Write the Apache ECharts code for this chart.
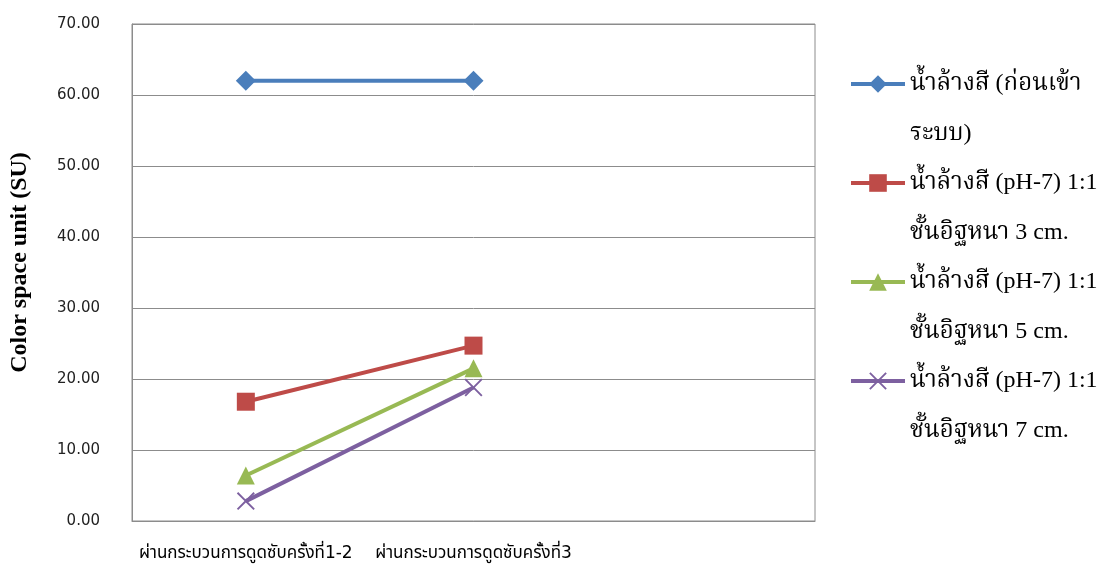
<!DOCTYPE html>
<html>
<head>
<meta charset="utf-8">
<script src="https://cdn.jsdelivr.net/npm/echarts@6/dist/echarts.min.js"></script>
<style>
  html, body { margin: 0; padding: 0; background: #fff; }
  #chart { width: 1099px; height: 565px; }
</style>
</head>
<body>
<div id="chart"></div>
<script>
// categories (third slot is empty in the original)
var categories = ['ผ่านกระบวนการดูดซับครั้งที่1-2', 'ผ่านกระบวนการดูดซับครั้งที่3', ''];

var seriesNames = [
  'น้ำล้างสี (ก่อนเข้าระบบ)',
  'น้ำล้างสี (pH-7) 1:1 ชั้นอิฐหนา 3 cm.',
  'น้ำล้างสี (pH-7) 1:1 ชั้นอิฐหนา 5 cm.',
  'น้ำล้างสี (pH-7) 1:1 ชั้นอิฐหนา 7 cm.'
];
// wrapped legend text, as in the picture
// (leading blank line keeps the icon level with the first line)
var legendLines = {
  'น้ำล้างสี (ก่อนเข้าระบบ)': '\nน้ำล้างสี (ก่อนเข้า\nระบบ)',
  'น้ำล้างสี (pH-7) 1:1 ชั้นอิฐหนา 3 cm.': '\nน้ำล้างสี (pH-7) 1:1\nชั้นอิฐหนา 3 cm.',
  'น้ำล้างสี (pH-7) 1:1 ชั้นอิฐหนา 5 cm.': '\nน้ำล้างสี (pH-7) 1:1\nชั้นอิฐหนา 5 cm.',
  'น้ำล้างสี (pH-7) 1:1 ชั้นอิฐหนา 7 cm.': '\nน้ำล้างสี (pH-7) 1:1\nชั้นอิฐหนา 7 cm.'
};

var rawWater = [62.0, 62.0];
var brick3cm = [16.8, 24.7];
var brick5cm = [6.4, 21.5];
var brick7cm = [2.8, 18.8];

var colors = ['#4A7EBB', '#BE4B48', '#98B954', '#7D60A0'];
var crossPath = 'path://M0,1.5L1.5,0L10,8.5L18.5,0L20,1.5L11.5,10L20,18.5L18.5,20L10,11.5L1.5,20L0,18.5L8.5,10Z';

function makeSeries(name, data, color, symbol, size) {
  return {
    name: name,
    type: 'line',
    data: data,
    symbol: symbol,
    symbolSize: size,
    lineStyle: { color: color, width: 4 },
    itemStyle: { color: color },
    emphasis: { disabled: true }
  };
}

var chart = echarts.init(document.getElementById('chart'));
var option = {
  animation: false,
  color: colors,
  grid: {
    left: 132, right: 284, top: 24, bottom: 44,
    show: true, borderColor: '#8C8C8C', borderWidth: 1
  },
  legend: {
    orient: 'vertical',
    left: 844,
    top: 4,
    itemWidth: 54,
    itemHeight: 22,
    itemGap: -51,
    data: seriesNames,
    lineStyle: { width: 4 },
    formatter: function (n) { return legendLines[n]; },
    textStyle: {
      fontFamily: '"Liberation Serif", "Noto Serif Thai", "Noto Sans Thai", serif',
      fontSize: 24,
      color: '#000',
      lineHeight: 50
    }
  },
  xAxis: {
    type: 'category',
    data: categories,
    axisLine: { lineStyle: { color: '#8C8C8C' } },
    axisTick: { show: false },
    axisLabel: {
      interval: 0,
      margin: 24,
      color: '#000',
      fontSize: 17,
      fontFamily: 'Tahoma, "DejaVu Sans", "Noto Sans Thai", sans-serif'
    }
  },
  yAxis: {
    type: 'value',
    min: 0, max: 70, interval: 10,
    name: 'Color space unit (SU)',
    nameLocation: 'middle',
    nameGap: 100,
    nameTextStyle: {
      fontFamily: '"Liberation Serif", serif',
      fontWeight: 'bold',
      fontSize: 24,
      color: '#000',
      padding: [0, 0, 0, 20]
    },
    axisLine: { show: true, lineStyle: { color: '#8C8C8C' } },
    axisTick: { show: false },
    splitLine: { lineStyle: { color: '#8C8C8C' } },
    axisLabel: {
      margin: 32,
      color: '#222',
      fontSize: 15,
      fontFamily: 'Tahoma, "DejaVu Sans", sans-serif',
      formatter: function (v) { return v.toFixed(2); }
    }
  },
  series: [
    makeSeries(seriesNames[0], rawWater, colors[0], 'diamond', 20),
    makeSeries(seriesNames[1], brick3cm, colors[1], 'rect', 18),
    makeSeries(seriesNames[2], brick5cm, colors[2], 'triangle', 18),
    makeSeries(seriesNames[3], brick7cm, colors[3], crossPath, 18)
  ]
};
chart.setOption(option);
</script>
</body>
</html>
